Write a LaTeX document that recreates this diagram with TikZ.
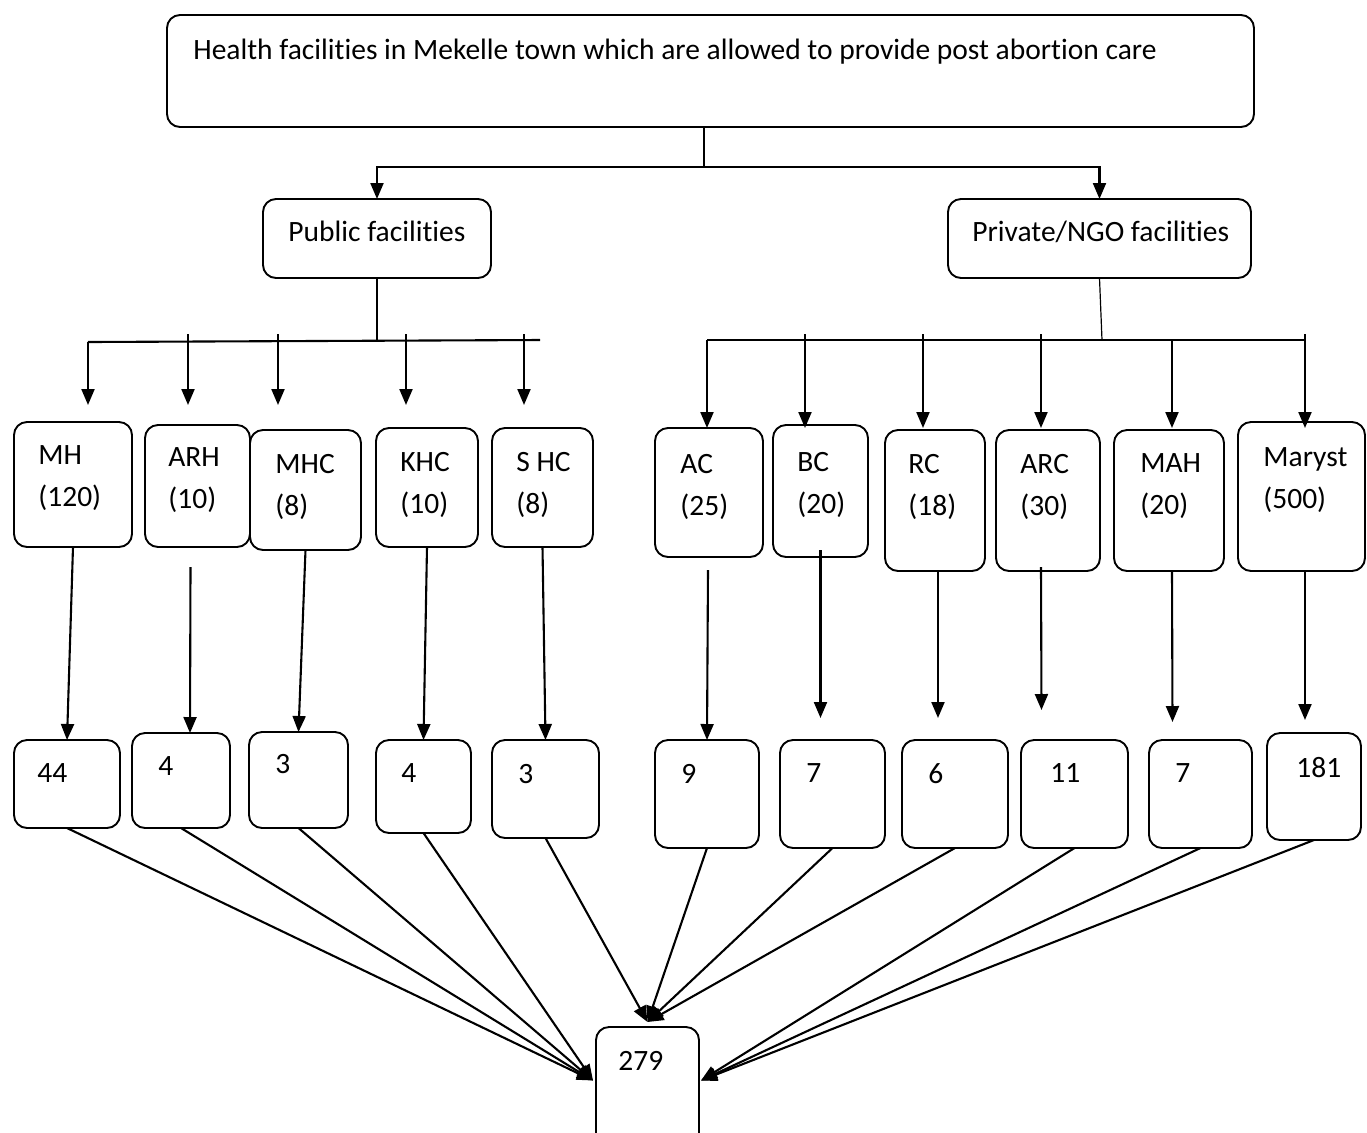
\documentclass[tikz,border=0pt]{standalone}
\usepackage{fontspec}
\setmainfont{Carlito}[Ligatures=NoCommon]
\usepackage{tikz}
\usetikzlibrary{arrows.meta}

\begin{document}
\begin{tikzpicture}[x=0.5pt, y=-0.5pt,
			box/.style={draw, rounded corners=6.5pt, line width=0.95pt, inner sep=0pt, outer sep=0pt},
			lbl/.style={inner sep=0pt, anchor=north west, align=left, font=\fontsize{14.75pt}{21pt}\selectfont},
			link/.style={line width=1.05pt},
			thinlink/.style={line width=0.6pt},
			arr/.style={link, -{Triangle[length=8pt, width=6.5pt]}}
		]
		\useasboundingbox (0,0) rectangle (1367,1132);

		% title
		\node[box, minimum width=543.5pt, minimum height=56pt] (title) at (710.5,71) {};
		\node[lbl] (title-t) at (193,39) {Health facilities in Mekelle town which are allowed to provide post abortion care};

		% sectors
		\node[box, minimum width=114pt, minimum height=39.5pt] (pub) at (377,238.5) {};
		\node[lbl] (pub-t) at (288,221) {Public facilities};
		\node[box, minimum width=151.5pt, minimum height=39.5pt] (priv) at (1099.5,238.5) {};
		\node[lbl] (priv-t) at (972,221) {Private/NGO facilities};

		% facilities (clients)
		\node[box, minimum width=59pt, minimum height=62.5pt] (mh) at (73,484.5) {};
		\node[box, minimum width=52.5pt, minimum height=61pt] (arh) at (197.5,486) {};
		\node[box, minimum width=55.5pt, minimum height=60pt] (mhc) at (305.5,490) {};
		\node[box, minimum width=51pt, minimum height=59.5pt] (khc) at (427,487.5) {};
		\node[box, minimum width=50.5pt, minimum height=59.5pt] (shc) at (542.5,487.5) {};
		\node[box, minimum width=54pt, minimum height=64.5pt] (ac) at (709,492.5) {};
		\node[box, minimum width=47.5pt, minimum height=66pt] (bc) at (820.5,491) {};
		\node[box, minimum width=50pt, minimum height=70.5pt] (rc) at (935,500.5) {};
		\node[box, minimum width=52pt, minimum height=70.5pt] (arc) at (1048,500.5) {};
		\node[box, minimum width=55pt, minimum height=70.5pt] (mah) at (1169,500.5) {};
		\node[box, minimum width=63.5pt, minimum height=74.5pt] (maryst) at (1301.5,496.5) {};

		\node[lbl] (mh-t) at (38,445.5) {MH\\(120)};
		\node[lbl] (arh-t) at (168,447.5) {ARH\\(10)};
		\node[lbl] (mhc-t) at (275,453.5) {MHC\\(8)};
		\node[lbl] (khc-t) at (400,451.5) {KHC\\(10)};
		\node[lbl] (shc-t) at (516,451.5) {S HC\\(8)};
		\node[lbl] (ac-t) at (680,453.5) {AC\\(25)};
		\node[lbl] (bc-t) at (797,451.5) {BC\\(20)};
		\node[lbl] (rc-t) at (908,453.5) {RC\\(18)};
		\node[lbl] (arc-t) at (1020,453.5) {ARC\\(30)};
		\node[lbl] (mah-t) at (1140,453.5) {MAH\\(20)};
		\node[lbl] (maryst-t) at (1263,447.5) {Maryst\\(500)};

		% sampled
		\node[box, minimum width=53pt, minimum height=44pt] (n44) at (67,784) {};
		\node[box, minimum width=49pt, minimum height=47.5pt] (n4a) at (181,780.5) {};
		\node[box, minimum width=49.5pt, minimum height=48pt] (n3a) at (298.5,780) {};
		\node[box, minimum width=47.5pt, minimum height=46.5pt] (n4b) at (423.5,786.5) {};
		\node[box, minimum width=53.5pt, minimum height=49pt] (n3b) at (545.5,789) {};
		\node[box, minimum width=52pt, minimum height=54pt] (n9) at (707,794) {};
		\node[box, minimum width=52.5pt, minimum height=54pt] (n7a) at (832.5,794) {};
		\node[box, minimum width=53pt, minimum height=54pt] (n6) at (955,794) {};
		\node[box, minimum width=53.5pt, minimum height=54pt] (n11) at (1074.5,794) {};
		\node[box, minimum width=51.5pt, minimum height=54pt] (n7b) at (1200.5,794) {};
		\node[box, minimum width=47pt, minimum height=53.5pt] (n181) at (1314,786.5) {};

		\node[lbl] (n44-t) at (37,763.5) {44};
		\node[lbl] (n4a-t) at (158,756.5) {4};
		\node[lbl] (n3a-t) at (275,753.5) {3};
		\node[lbl] (n4b-t) at (401,763.5) {4};
		\node[lbl] (n3b-t) at (518,763.5) {3};
		\node[lbl] (n9-t) at (681,763.5) {9};
		\node[lbl] (n7a-t) at (806,763.5) {7};
		\node[lbl] (n6-t) at (928,763.5) {6};
		\node[lbl] (n11-t) at (1050,763.5) {11};
		\node[lbl] (n7b-t) at (1175,763.5) {7};
		\node[lbl] (n181-t) at (1296,756.5) {181};

		% total
		\node[box, minimum width=51.5pt, minimum height=61.5pt] (total) at (647.5,1088.5) {};
		\node[lbl] (total-t) at (618,1050.5) {279};

		% title -> sectors
		\coordinate (split) at (704,167);
		\draw[thinlink] (title.south -| split) -- (split);
		\draw[arr] (split) -| (pub.north);
		\draw[arr] (split) -| (priv.north);

		% public bus
		\coordinate (pbus) at (377,341);
		\coordinate (pbus-l) at (88,342);
		\coordinate (pbus-r) at (540,340);
		\coordinate (ptop) at (0,334);
		\coordinate (ptip) at (0,405);
		\draw[thinlink] (pub.south) -- (pbus);
		\draw[link] (pbus-l) -- (pbus-r);
		\draw[arr] (pbus-l) -- (pbus-l |- ptip);
		\draw[arr] (188,0 |- ptop) -- (188,0 |- ptip);
		\draw[arr] (278,0 |- ptop) -- (278,0 |- ptip);
		\draw[arr] (406,0 |- ptop) -- (406,0 |- ptip);
		\draw[arr] (524,0 |- ptop) -- (524,0 |- ptip);

		% private bus
		\coordinate (vbus) at (1102,340);
		\coordinate (vbus-l) at (707,340);
		\coordinate (vbus-r) at (1305,340);
		\coordinate (vtop) at (0,334);
		\coordinate (vtip) at (0,428);
		\draw[thinlink] (priv.south) -- (vbus);
		\draw[link] (vbus-l) -- (vbus-r);
		\draw[arr] (vbus-l) -- (vbus-l |- vtip);
		\draw[arr] (805,0 |- vtop) -- (805,0 |- vtip);
		\draw[arr] (923,0 |- vtop) -- (923,0 |- vtip);
		\draw[arr] (1041,0 |- vtop) -- (1041,0 |- vtip);
		\draw[arr] (1172,340) -- (1172,0 |- vtip);
		\draw[arr] (vbus-r |- vtop) -- (vbus-r |- vtip);

		% facility -> sampled
		\draw[arr] (mh.south) -- (n44.north);
		\draw[arr] ([shift={(-7,20)}]arh.south) -- ([shift={(9,0)}]n4a.north);
		\draw[arr] (mhc.south) -- (n3a.north);
		\draw[arr] (khc.south) -- (n4b.north);
		\draw[arr] (shc.south) -- (n3b.north);
		\draw[arr] ([shift={(-1,13)}]ac.south) -- (n9.north);
		\draw[arr] ([shift={(0,-7)}]bc.south) -- ([shift={(-12,-22)}]n7a.north);
		\draw[arr] ([shift={(3,0)}]rc.south) -- ([shift={(-17,-22)}]n6.north);
		\draw[arr] ([shift={(-7,-4)}]arc.south) -- ([shift={(-33,-30)}]n11.north);
		\draw[arr] ([shift={(3,0)}]mah.south) -- ([shift={(-28,-18)}]n7b.north);
		\draw[arr] ([shift={(3.5,0)}]maryst.south) -- ([shift={(-9,-13)}]n181.north);

		% sampled -> total
		\coordinate (tot-l) at ([shift={(-3,-8)}]total.west);
		\coordinate (tot-t) at ([shift={(0,-5)}]total.north);
		\coordinate (tot-r) at ([shift={(2,-8)}]total.east);
		\draw[arr] (n44.south) -- (tot-l);
		\draw[arr] (n4a.south) -- (tot-l);
		\draw[arr] (n3a.south) -- (tot-l);
		\draw[arr] (n4b.south) -- (tot-l);
		\draw[arr] (n3b.south) -- (tot-t);
		\draw[arr] (n9.south) -- (tot-t);
		\draw[arr] (n7a.south) -- (tot-t);
		\draw[arr] (n6.south) -- (tot-t);
		\draw[arr] (n11.south) -- (tot-r);
		\draw[arr] (n7b.south) -- (tot-r);
		\draw[arr] (n181.south) -- (tot-r);
	\end{tikzpicture}
\end{document}
